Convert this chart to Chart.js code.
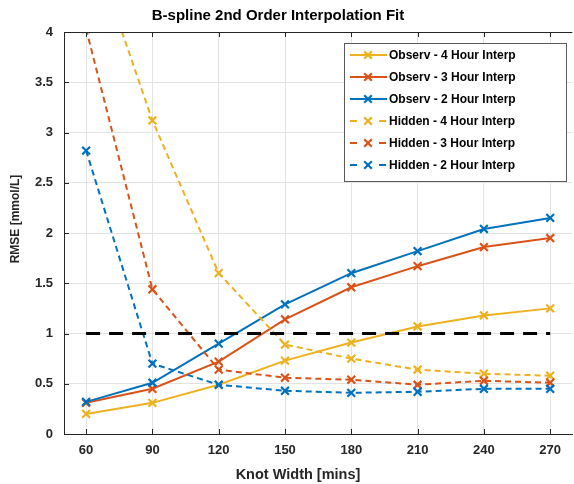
<!DOCTYPE html>
<html>
<head>
<meta charset="utf-8">
<script src="https://cdn.jsdelivr.net/npm/chart.js@4.4.0/dist/chart.umd.min.js"></script>
<style>
  html, body { margin: 0; padding: 0; background: #fff; }
  #wrap { width: 574px; height: 484px; overflow: hidden; }
  canvas { display: block; }
</style>
</head>
<body>
<div id="wrap"><canvas id="graficoRmse" width="580" height="484"></canvas></div>
<script>
// knot widths (x) and RMSE values
const knotWidths = [60, 90, 120, 150, 180, 210, 240, 270]
const observ4h = [0.20, 0.31, 0.49, 0.73, 0.91, 1.07, 1.18, 1.25]
const observ3h = [0.31, 0.45, 0.72, 1.14, 1.46, 1.67, 1.86, 1.95]
const observ2h = [0.32, 0.51, 0.90, 1.29, 1.60, 1.82, 2.04, 2.15]
const hidden4h = [5.04, 3.12, 1.60, 0.89, 0.75, 0.64, 0.60, 0.58]
const hidden3h = [4.03, 1.44, 0.64, 0.56, 0.54, 0.49, 0.53, 0.51]
const hidden2h = [2.82, 0.70, 0.49, 0.43, 0.41, 0.42, 0.45, 0.45]
const limiteRmse = 1
const yTicks = [0, 0.5, 1, 1.5, 2, 2.5, 3, 3.5, 4]

const AZUL = "#0072BD"
const LARANJA = "#D95319"
const AMARELO = "#EDB120"
const TEXTO = "#262626"
const FONTE = "'Liberation Sans', Arial, Helvetica, sans-serif"

const series = [
  { label: "Observ - 4 Hour Interp", valores: observ4h, cor: AMARELO, tracejado: false },
  { label: "Observ - 3 Hour Interp", valores: observ3h, cor: LARANJA, tracejado: false },
  { label: "Observ - 2 Hour Interp", valores: observ2h, cor: AZUL, tracejado: false },
  { label: "Hidden - 4 Hour Interp", valores: hidden4h, cor: AMARELO, tracejado: true },
  { label: "Hidden - 3 Hour Interp", valores: hidden3h, cor: LARANJA, tracejado: true },
  { label: "Hidden - 2 Hour Interp", valores: hidden2h, cor: AZUL, tracejado: true },
]

const datasets = series.map((s, i) => ({
  label: s.label,
  data: knotWidths.map((x, k) => ({ x: x, y: s.valores[k] })),
  borderColor: s.cor,
  backgroundColor: s.cor,
  borderWidth: 2,
  borderDash: s.tracejado ? [6, 4] : [],
  pointStyle: "crossRot",
  pointRadius: 5.5,
  pointBorderWidth: 2.2,
  pointBorderColor: s.cor,
  tension: 0,
  order: -i,
}))

// linha de referência em RMSE = 1
datasets.push({
  label: "limite",
  data: [
    { x: knotWidths[0], y: limiteRmse },
    { x: knotWidths[knotWidths.length - 1], y: limiteRmse },
  ],
  borderColor: "#000",
  borderWidth: 3,
  borderDash: [14, 9],
  pointRadius: 0,
  order: -10,
})

// moldura estilo MATLAB, ticks para dentro, títulos e legenda
const pluginMoldura = {
  id: "moldura",
  afterDatasetsDraw(chart) {
    const { ctx, chartArea: a, scales } = chart
    ctx.save()
    ctx.strokeStyle = TEXTO
    ctx.lineWidth = 1
    ctx.beginPath()
    ctx.moveTo(a.left, a.top + 0.5)
    ctx.lineTo(a.right, a.top + 0.5)
    for (const v of knotWidths) {
      const px = Math.round(scales.x.getPixelForValue(v)) + 0.5
      ctx.moveTo(px, a.bottom)
      ctx.lineTo(px, a.bottom - 5)
      ctx.moveTo(px, a.top)
      ctx.lineTo(px, a.top + 5)
    }
    for (const v of yTicks) {
      const py = Math.round(scales.y.getPixelForValue(v)) + 0.5
      ctx.moveTo(a.left, py)
      ctx.lineTo(a.left + 5, py)
    }
    ctx.stroke()
    ctx.restore()
  },
  afterDraw(chart) {
    const ctx = chart.ctx
    ctx.save()
    ctx.fillStyle = "#000"
    ctx.textAlign = "center"
    ctx.textBaseline = "middle"
    ctx.font = "bold 15px " + FONTE
    ctx.fillText("B-spline 2nd Order Interpolation Fit", 278, 16)
    ctx.fillStyle = TEXTO
    ctx.font = "bold 14.5px " + FONTE
    ctx.fillText("Knot Width [mins]", 298, 475)
    ctx.save()
    ctx.translate(16, 219)
    ctx.rotate(-Math.PI / 2)
    ctx.font = "bold 12px " + FONTE
    ctx.fillText("RMSE [mmol/L]", 0, 0)
    ctx.restore()

    // legenda
    const bx = 344, by = 43, bw = 222, bh = 138
    ctx.fillStyle = "#fff"
    ctx.fillRect(bx, by, bw, bh)
    ctx.strokeStyle = "#5a5a5a"
    ctx.lineWidth = 1
    ctx.strokeRect(bx + 0.5, by + 0.5, bw, bh)
    ctx.font = "bold 12px " + FONTE
    ctx.textAlign = "left"
    series.forEach((s, i) => {
      const y = 55 + i * 22
      ctx.strokeStyle = s.cor
      ctx.lineWidth = 2
      ctx.beginPath()
      if (s.tracejado) {
        ctx.moveTo(350, y); ctx.lineTo(357, y)
        ctx.moveTo(379, y); ctx.lineTo(386, y)
      } else {
        ctx.moveTo(350, y); ctx.lineTo(387, y)
      }
      ctx.stroke()
      const r = 3.8
      ctx.lineWidth = 2.2
      ctx.beginPath()
      ctx.moveTo(368 - r, y - r); ctx.lineTo(368 + r, y + r)
      ctx.moveTo(368 - r, y + r); ctx.lineTo(368 + r, y - r)
      ctx.stroke()
      ctx.fillStyle = "#000"
      ctx.fillText(s.label, 389, y + 1)
    })
    ctx.restore()
  },
}

new Chart(document.getElementById("graficoRmse"), {
  type: "line",
  data: { datasets: datasets },
  plugins: [pluginMoldura],
  options: {
    responsive: false,
    animation: false,
    layout: { padding: { top: 32, right: 4, left: 0, bottom: 0 } },
    plugins: {
      legend: { display: false },
      tooltip: { enabled: false },
      title: { display: false },
    },
    scales: {
      x: {
        type: "linear",
        min: 50,
        max: 280,
        afterBuildTicks: (scale) => {
          scale.ticks = knotWidths.map((v) => ({ value: v }))
        },
        afterFit: (scale) => {
          scale.height = 50
        },
        grid: { color: "#e3e3e3", drawTicks: false },
        border: { display: true, color: TEXTO, width: 1 },
        ticks: {
          color: TEXTO,
          padding: 9,
          maxRotation: 0,
          font: { family: FONTE, size: 13, weight: "bold" },
        },
      },
      y: {
        min: 0,
        max: 4,
        afterBuildTicks: (scale) => {
          scale.ticks = yTicks.map((v) => ({ value: v }))
        },
        afterFit: (scale) => {
          scale.width = 64
        },
        grid: { color: "#e3e3e3", drawTicks: false },
        border: { display: true, color: TEXTO, width: 1 },
        ticks: {
          color: TEXTO,
          padding: 11,
          callback: (v) => String(v),
          font: { family: FONTE, size: 13, weight: "bold" },
        },
      },
    },
  },
})
</script>
</body>
</html>
